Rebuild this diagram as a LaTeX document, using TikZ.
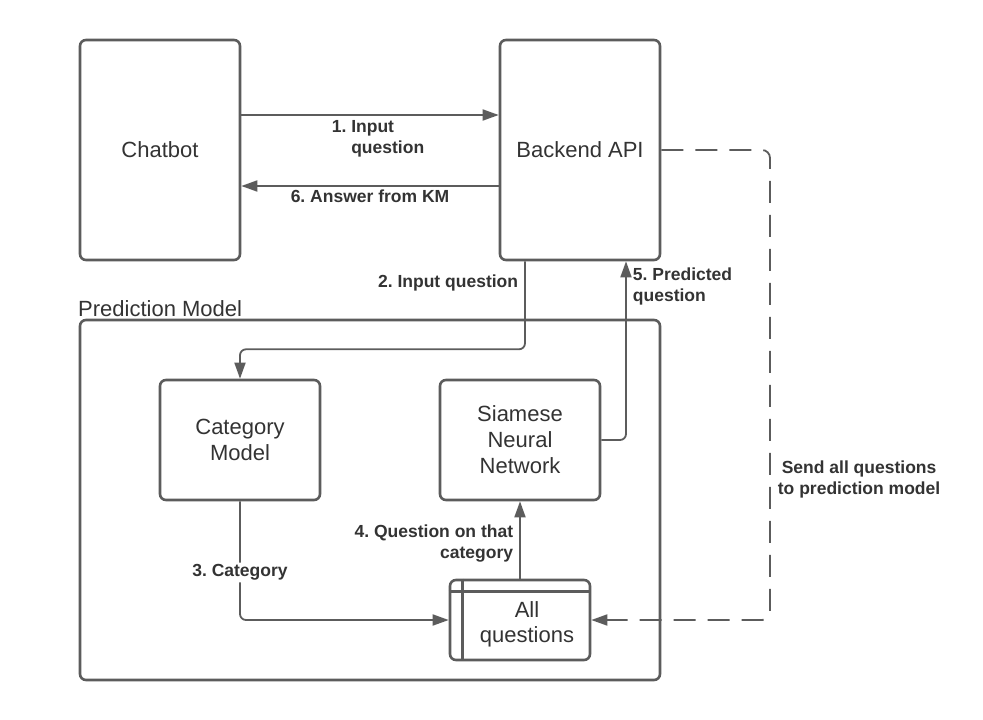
\documentclass[tikz,border=0pt]{standalone}
\usepackage{fontspec}
\setmainfont{Liberation Sans}
\usetikzlibrary{arrows.meta}
\definecolor{linegray}{HTML}{5C5C5C}
\definecolor{textgray}{HTML}{333333}
\frenchspacing

\begin{document}
\begin{tikzpicture}[x=1pt,y=-1pt,
  box/.style={draw=linegray, line width=2.6pt, rounded corners=6pt, text=textgray, align=center, font=\fontsize{22}{26}\selectfont},
  conn/.style={draw=linegray, line width=1.8pt, rounded corners=6pt, -{Triangle[length=16pt,width=11pt]}},
  lbl/.style={text=textgray, font=\bfseries\fontsize{17.5}{21}\selectfont, inner sep=2pt}]
 \useasboundingbox (0,0) rectangle (983,720);

 \node[box, minimum width=160pt, minimum height=220pt] (chatbot) at (160,150) {Chatbot};
 \node[box, minimum width=160pt, minimum height=220pt] (backend) at (580,150) {Backend API};

 \node[box, minimum width=580pt, minimum height=360pt] (pm) at (370,500) {};
 \node[anchor=base west, inner sep=0, text=textgray, font=\fontsize{22}{26}\selectfont] (pmlabel) at (78,316) {Prediction Model};

 \node[box, minimum width=160pt, minimum height=120pt] (category) at (240,440) {Category\\Model};
 \node[box, minimum width=160pt, minimum height=120pt] (siamese) at (520,440) {Siamese\\Neural\\Network};

 \node[box, minimum width=140pt, minimum height=80pt] (allq) at (520,620) {};
 \draw[linegray, line width=2.6pt] ([yshift=-13pt]allq.north west) -- ([yshift=-13pt]allq.north east);
 \draw[linegray, line width=2.6pt] ([xshift=14pt]allq.north west) -- ([xshift=14pt]allq.south west);
 \node[text=textgray, align=center, font=\fontsize{22}{25}\selectfont] (allqtext) at (527,624) {All\\questions};

 \draw[conn] ([yshift=35pt]chatbot.east) -- node[lbl, below, xshift=8pt]{\begin{tabular}{@{}l@{ }l@{}}1.&Input\\&question\end{tabular}} ([yshift=35pt]backend.west);
 \draw[conn] ([yshift=-36pt]backend.west) -- node[lbl, below, yshift=-1pt]{6. Answer from KM} ([yshift=-36pt]chatbot.east);

 \draw[conn] ([xshift=-55pt]backend.south) -- node[lbl, anchor=east, pos=0.25, xshift=-4pt]{2. Input question} ++(0,88) -| (category.north);
 \draw[conn] (category.south) |- node[lbl, fill=white, pos=0.3]{3. Category} (allq.west);
 \draw[conn] (allq.north) -- node[lbl, anchor=east, align=right, xshift=-4pt, yshift=-4pt]{4. Question on that\\category} (siamese.south);
 \draw[conn] (siamese.east) -| node[lbl, anchor=west, align=left, pos=0.93, xshift=4pt]{5. Predicted\\question} ([xshift=46pt]backend.south);

 \coordinate (bend) at (770,150);
 \draw[conn, dash pattern=on 22pt off 12pt, rounded corners=8pt] (backend.east) -- (bend) |- node[lbl, anchor=west, align=center, pos=0.35, xshift=5pt]{Send all questions\\to prediction model} (allq.east);

\end{tikzpicture}
\end{document}
